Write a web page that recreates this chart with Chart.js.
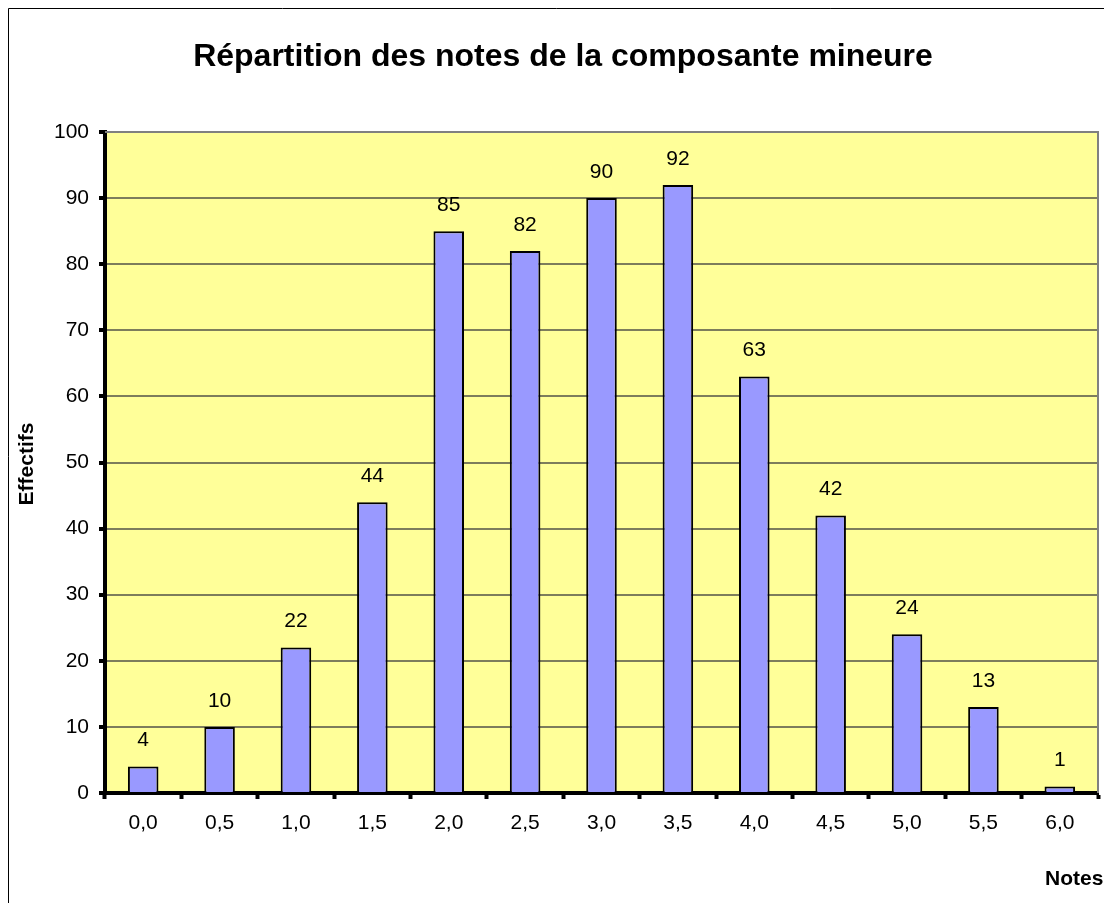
<!DOCTYPE html>
<html>
<head>
<meta charset="utf-8">
<title>Répartition des notes</title>
<script src="https://cdn.jsdelivr.net/npm/chart.js@4"></script>
<style>
    html, body { margin: 0; padding: 0; background: #fff; }
    #wrap { width: 1104px; height: 903px; }
</style>
</head>
<body>
<div id="wrap"><canvas id="notes-chart" width="1104" height="903"></canvas></div>
<script>
// Chart data
const notes = ["0,0", "0,5", "1,0", "1,5", "2,0", "2,5", "3,0", "3,5", "4,0", "4,5", "5,0", "5,5", "6,0"];
const effectifs = [4, 10, 22, 44, 85, 82, 90, 92, 63, 42, 24, 13, 1];
const yMin = 0;
const yMax = 100;
const yStep = 10;

const chartTitle = "Répartition des notes de la composante mineure";
const yTitle = "Effectifs";
const xTitle = "Notes";

const FONT = "'Liberation Sans', Arial, sans-serif";

// Background, borders, labels and titles
const decorPlugin = {
    id: "decor",
    beforeDraw(chart) {
        const { ctx, chartArea: a } = chart;
        ctx.save();
        // outer frame (only top and left are visible)
        ctx.strokeStyle = "#000";
        ctx.lineWidth = 1;
        ctx.beginPath();
        ctx.moveTo(8.5, 910);
        ctx.lineTo(8.5, 8.5);
        ctx.lineTo(1110, 8.5);
        ctx.stroke();
        // plot area
        ctx.fillStyle = "#FFFF99";
        ctx.fillRect(a.left, a.top, a.right - a.left, a.bottom - a.top);
        ctx.restore();
    },
    beforeDatasetsDraw(chart) {
        const { ctx, chartArea: a } = chart;
        ctx.save();
        ctx.strokeStyle = "#808080";
        ctx.lineWidth = 2;
        ctx.beginPath();
        ctx.moveTo(a.left, a.top);
        ctx.lineTo(a.right, a.top);
        ctx.lineTo(a.right, a.bottom);
        ctx.stroke();
        ctx.restore();
    },
    afterDatasetsDraw(chart) {
        const { ctx } = chart;
        const meta = chart.getDatasetMeta(0);
        ctx.save();
        ctx.fillStyle = "#000";
        ctx.font = "21px " + FONT;
        ctx.textAlign = "center";
        ctx.textBaseline = "middle";
        meta.data.forEach((bar, i) => {
            ctx.fillText(String(effectifs[i]), bar.x, bar.y - 26);
        });
        ctx.restore();
    },
    afterDraw(chart) {
        const { ctx } = chart;
        ctx.save();
        ctx.fillStyle = "#000";
        ctx.textBaseline = "alphabetic";

        ctx.font = "bold 32px " + FONT;
        ctx.textAlign = "center";
        ctx.fillText(chartTitle, 563, 66);

        ctx.font = "bold 21px " + FONT;
        ctx.textAlign = "left";
        ctx.fillText(xTitle, 1045, 885);

        ctx.translate(27, 464);
        ctx.rotate(-Math.PI / 2);
        ctx.textAlign = "center";
        ctx.textBaseline = "middle";
        ctx.fillText(yTitle, 0, 0);
        ctx.restore();
    },
};

document.addEventListener("DOMContentLoaded", () => {
    const ctx = document.getElementById("notes-chart").getContext("2d");

    new Chart(ctx, {
        type: "bar",
        data: {
            labels: notes,
            datasets: [
                {
                    label: yTitle,
                    data: effectifs,
                    backgroundColor: "#9999FF",
                    borderColor: "#000",
                    borderWidth: 2,
                    barPercentage: 0.4,
                    categoryPercentage: 1,
                },
            ],
        },
        options: {
            responsive: false,
            animation: false,
            layout: {
                padding: { top: 132, left: 0, right: 6, bottom: 0 },
            },
            plugins: {
                legend: { display: false },
                title: { display: false },
                tooltip: { enabled: false },
            },
            scales: {
                x: {
                    grid: {
                        offset: true,
                        drawOnChartArea: false,
                        drawTicks: true,
                        tickLength: 6,
                        tickWidth: 4,
                        tickColor: "#000",
                    },
                    border: { display: true, color: "#000", width: 4 },
                    ticks: {
                        color: "#000",
                        padding: 12,
                        maxRotation: 0,
                        font: { family: FONT, size: 21 },
                    },
                    afterFit(scale) {
                        scale.height = 110;
                    },
                },
                y: {
                    min: yMin,
                    max: yMax,
                    ticks: {
                        stepSize: yStep,
                        color: "#000",
                        padding: 10,
                        font: { family: FONT, size: 21 },
                    },
                    grid: {
                        color: "#7d7d5c",
                        lineWidth: 2,
                        drawTicks: true,
                        tickLength: 6,
                        tickWidth: 4,
                        tickColor: "#000",
                    },
                    border: { display: true, color: "#000", width: 4 },
                    afterFit(scale) {
                        scale.width = 105;
                    },
                },
            },
        },
        plugins: [decorPlugin],
    });
});
</script>
</body>
</html>
